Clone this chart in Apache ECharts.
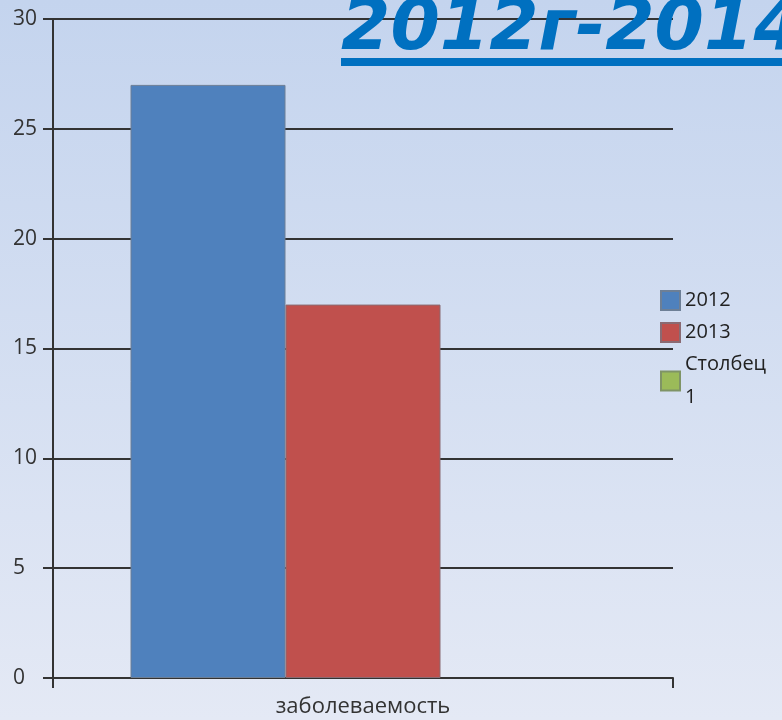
<!DOCTYPE html>
<html>
<head>
<meta charset="utf-8">
<script src="https://cdn.jsdelivr.net/npm/echarts@6/dist/echarts.min.js"></script>
<style>
  html, body { margin: 0; padding: 0; }
  #box { width: 782px; height: 720px; }
</style>
</head>
<body>
<div id="box"></div>
<script>
var categories = ["заболеваемость"];
var seriesNames = ["2012", "2013", "Столбец 1"];
var values2012 = [27];
var values2013 = [17];
var valuesCol1 = [null];
var colors = ["#4f81bd", "#c0504d", "#9bbb59"];

var chart = echarts.init(document.getElementById("box"));
var font = "'Open Sans', 'DejaVu Sans', sans-serif";

var option = {
  backgroundColor: {
    type: "linear", x: 0, y: 0, x2: 0, y2: 1,
    colorStops: [
      { offset: 0, color: "#c4d4ee" },
      { offset: 1, color: "#e4e9f5" }
    ]
  },
  title: {
    text: "2012г-2014",
    left: 336,
    top: -10,
    z: 0,
    textStyle: {
      fontFamily: "'DejaVu Sans', sans-serif",
      fontSize: 71,
      fontStyle: "italic",
      fontWeight: "bold",
      color: "#0070c0"
    }
  },
  graphic: [
    // underline of the title
    { type: "rect", z: 0, shape: { x: 341, y: 58, width: 460, height: 8 }, style: { fill: "#0070c0" } }
  ],
  legend: {
    orient: "vertical",
    left: 660,
    top: 284,
    padding: 0,
    itemWidth: 19,
    itemHeight: 19,
    itemGap: -1,
    icon: "rect",
    data: seriesNames,
    formatter: function (name) { return name.replace(" ", "\n"); },
    textStyle: { fontFamily: font, fontSize: 20, color: "#222", lineHeight: 33 }
  },
  grid: { left: 53, right: 109, top: 19, bottom: 42, containLabel: false },
  xAxis: {
    type: "category",
    data: categories,
    axisLine: { lineStyle: { color: "#333", width: 2 } },
    axisTick: { show: true, length: 10, lineStyle: { color: "#333", width: 2 } },
    axisLabel: { fontFamily: font, fontSize: 22, color: "#333", margin: 18 }
  },
  yAxis: {
    type: "value",
    min: 0,
    max: 30,
    interval: 5,
    axisLine: { show: true, lineStyle: { color: "#333", width: 2 } },
    axisTick: { show: true, length: 10, lineStyle: { color: "#333", width: 2 } },
    axisLabel: { fontFamily: font, fontSize: 21, color: "#333", margin: 40, align: "left" },
    splitLine: { show: true, lineStyle: { color: "#333", width: 2 } }
  },
  series: [
    { name: seriesNames[0], type: "bar", data: values2012, barGap: "0%", barCategoryGap: "25%",
      itemStyle: { color: colors[0], borderColor: "#6d7f96", borderWidth: 1 } },
    { name: seriesNames[1], type: "bar", data: values2013,
      itemStyle: { color: colors[1], borderColor: "#8a6a72", borderWidth: 1 } },
    { name: seriesNames[2], type: "bar", data: valuesCol1,
      itemStyle: { color: colors[2], borderColor: "#7f9466", borderWidth: 1 } }
  ]
};
chart.setOption(option);
</script>
</body>
</html>
